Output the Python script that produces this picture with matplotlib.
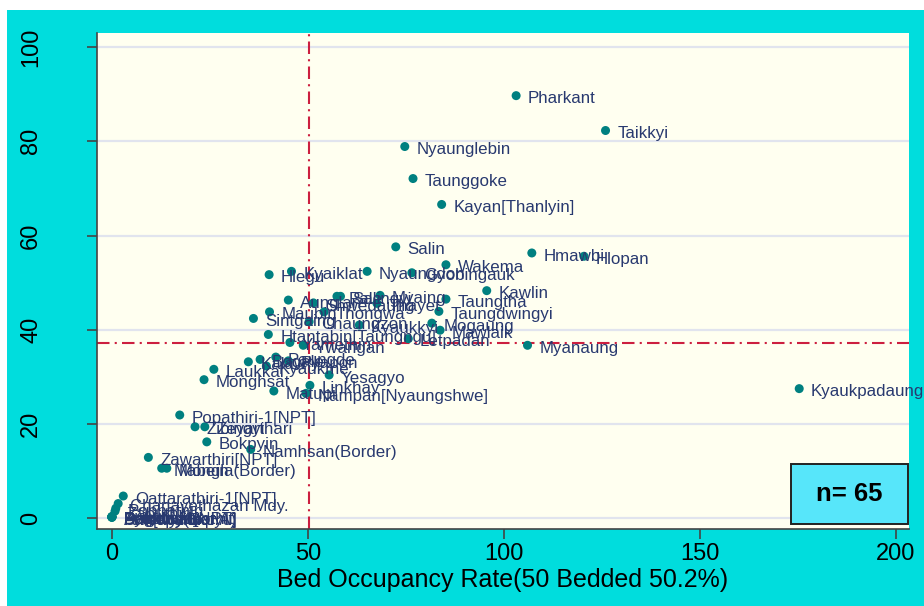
import matplotlib
matplotlib.use('Agg')
import matplotlib.pyplot as plt
from matplotlib.patches import Rectangle
from matplotlib.transforms import blended_transform_factory

plt.rcParams['font.family'] = ['Liberation Sans', 'DejaVu Sans']

# township hospitals, x = bed occupancy rate (50 bedded), y = second rate
names = [
    'Pharkant', 'Taikkyi', 'Nyaunglebin', 'Taunggoke', 'Kayan[Thanlyin]',
    'Salin', 'Hmawbi', 'Hlopan', 'Wakema', 'Hlegu', 'Kyaiklat', 'Nyaungdon',
    'Gyobingauk', 'Kawlin', 'Aunglan', 'Pale', 'Salingyi', 'Myaing', 'Thayet',
    'Shwedaung', 'Taungdwingyi', 'Maubin', 'Thongwa', 'Sintgaing', 'Chaungzon',
    'Kyaukkyi', 'Mogaung', 'Mawlaik', 'Htantabin[Taungngu]', 'Letpadan',
    'Myanaung', 'Kyaukpadaung', 'Taungtha', 'Yamethin', 'Ywangan',
    'Kalaw', 'Bogale', 'Paungde', 'Pyapon', 'Kyaukme', 'Laukkai', 'Monghsat',
    'Yesagyo', 'Linkhay', 'Matupi', 'Nampan[Nyaungshwe]', 'Popathiri-1[NPT]',
    'Zibingyi', 'Zeyarthari', 'Bokpyin', 'Namhsan(Border)', 'Zawarthiri[NPT]',
    'Mabein', 'Mongla(Border)', 'Oattarathiri-1[NPT]', 'Chanayethazan Mdy.',
    'Pobbathiri', 'Zabuthiri', 'Dagon Myothit', 'Dekkhina[NPT]',
    'Ann[Kyaukpyu]', 'Pyinmana', 'Shwepyithar', 'Bogalay', 'Paletwa(Bor.A)',
]
occ = [
    103.1, 125.9, 74.7, 76.8, 84.1,
    72.4, 107.1, 120.4, 85.2, 40.1, 45.8, 65.1,
    76.5, 95.6, 45.0, 57.4, 58.3, 68.4, 67.6,
    51.4, 83.4, 40.2, 54.1, 36.1, 50.3,
    63.1, 81.6, 83.7, 39.9, 75.6,
    106.0, 175.3, 85.2, 45.4, 48.8,
    34.8, 37.8, 41.8, 45.0, 39.4, 26.0, 23.5,
    55.4, 50.5, 41.3, 49.5, 17.3,
    21.2, 23.7, 24.2, 35.4, 9.3,
    12.7, 14.0, 2.9, 1.6,
    1.0, 0.8, 0.0, 0.0,
    0.0, 0.0, 0.0, 0.0, 0.0,
]
rate = [
    89.7, 82.3, 78.9, 72.1, 66.6,
    57.6, 56.3, 55.6, 53.8, 51.7, 52.4, 52.4,
    52.1, 48.3, 46.3, 47.1, 47.1, 47.3, 45.6,
    45.7, 43.9, 43.8, 43.8, 42.4, 41.7,
    41.0, 41.4, 39.9, 39.0, 38.1,
    36.7, 27.5, 46.5, 37.3, 36.7,
    33.2, 33.7, 34.2, 33.4, 32.3, 31.6, 29.4,
    30.4, 28.2, 27.0, 26.5, 21.9,
    19.4, 19.4, 16.2, 14.6, 12.9,
    10.6, 10.6, 4.7, 3.1,
    2.1, 1.5, 0.3, 0.3,
    0.2, 0.3, 0.2, 0.3, 0.2,
]
x_ref = 50.2
y_ref = 37.2
xticks = [0, 50, 100, 150, 200]
yticks = [0, 20, 40, 60, 80, 100]
n_text = 'n= 65'

teal = '#008080'
navy = '#28396f'
red = '#cc1f3f'

fig = plt.figure(figsize=(9.24, 6.06), dpi=100, facecolor='#00dddd')
# thin white strips on the left and top edge
fig.patches.append(Rectangle((0, 0), 7 / 924, 1, transform=fig.transFigure,
                             facecolor='white', edgecolor='none'))
fig.patches.append(Rectangle((0, 1 - 10 / 606), 1, 10 / 606,
                             transform=fig.transFigure, facecolor='white',
                             edgecolor='none'))

ax = fig.add_axes([97 / 924, 1 - 529 / 606, (909 - 97) / 924, (529 - 33) / 606])
ax.set_facecolor('#fffff0')
ax.set_xlim(-3.8, 203.3)
ax.set_ylim(-2.3, 103.0)

for s in ['top', 'right']:
    ax.spines[s].set_visible(False)
for s in ['left', 'bottom']:
    ax.spines[s].set_color('#444444')
    ax.spines[s].set_linewidth(1.2)

ax.set_yticks(yticks)
ax.set_xticks(xticks)
ax.yaxis.grid(True, color='#e1e4ee', linewidth=1.6)
ax.set_axisbelow(True)
ax.tick_params(axis='both', colors='#444444', labelcolor='black',
               length=7, width=1.2, labelsize=17)
ax.tick_params(axis='x', pad=3)
ax.tick_params(axis='y', labelleft=False)

# y tick labels sit far from the axis, rotated like in Stata
ytrans = blended_transform_factory(fig.transFigure, ax.transData)
for t in yticks:
    ax.text(31 / 924, t, str(t), transform=ytrans, rotation=90,
            ha='center', va='center', fontsize=17, color='black')

ax.axvline(x_ref, color=red, lw=1.5, dashes=(6, 2.5, 1, 2.5), zorder=2)
ax.axhline(y_ref, color=red, lw=1.5, dashes=(6, 2.5, 1, 2.5), zorder=2)

ax.scatter(occ, rate, s=42, color=teal, edgecolors='none', zorder=3,
           clip_on=False)
for nm, xv, yv in zip(names, occ, rate):
    ax.annotate(nm, (xv, yv), xytext=(8.5, -5.5), textcoords='offset points',
                va='baseline', ha='left', fontsize=12.2, color=navy,
                zorder=4, annotation_clip=False)

ax.set_xlabel('Bed Occupancy Rate(50 Bedded 50.2%)', fontsize=18,
              labelpad=2)

# n box in the lower right corner
ax.add_patch(Rectangle((0.855, 0.010), 0.144, 0.121, transform=ax.transAxes,
                       facecolor='#57e6fa', edgecolor='#222222',
                       linewidth=1.4, zorder=5, clip_on=False))
ax.text(0.927, 0.071, n_text, transform=ax.transAxes, ha='center',
        va='center', fontsize=18.5, fontweight='bold', zorder=6)

fig.savefig('out.png', dpi=100, facecolor=fig.get_facecolor())
